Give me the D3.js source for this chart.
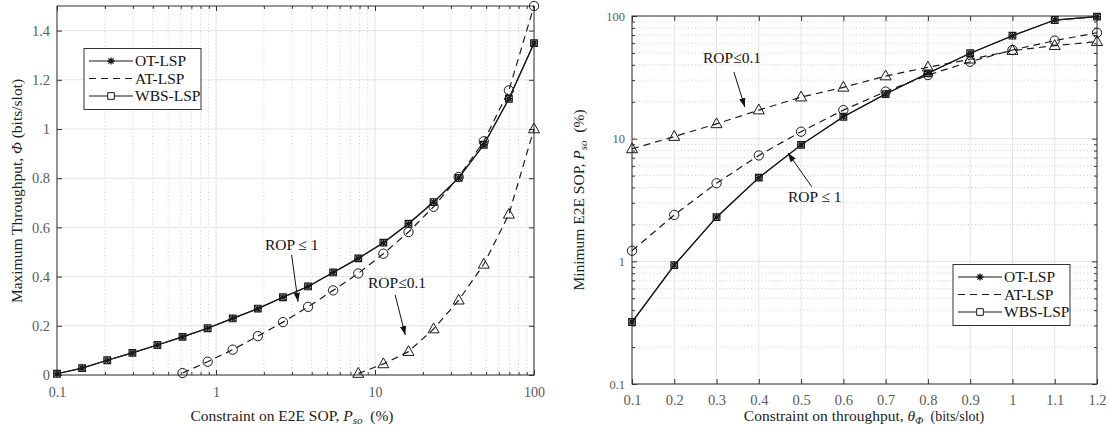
<!DOCTYPE html>
<html>
<head>
<meta charset="utf-8">
<script src="https://cdn.jsdelivr.net/npm/d3@7"></script>
<style>
  body { margin: 0; background: #fff; }
  svg, svg text, svg tspan { font-family: "Liberation Serif", "DejaVu Serif", "Noto Serif", Times, serif !important; }
</style>
</head>
<body>
<div id="chart"></div>
<script>
//
// Two panels: max throughput vs SOP constraint, min SOP vs throughput constraint
//

// ---- left panel data (x = SOP constraint, %)
var leftX = [0.1, 0.1438, 0.207, 0.298, 0.428, 0.616, 0.886, 1.274, 1.833, 2.637, 3.793, 5.456, 7.848, 11.29, 16.24, 23.36, 33.6, 48.33, 69.52, 100];
var leftOT = [0.005, 0.028, 0.06, 0.09, 0.122, 0.155, 0.19, 0.23, 0.27, 0.316, 0.36, 0.417, 0.474, 0.538, 0.615, 0.703, 0.801, 0.936, 1.123, 1.349];
var leftWBS = [0.005, 0.028, 0.06, 0.09, 0.122, 0.155, 0.19, 0.23, 0.27, 0.316, 0.36, 0.417, 0.474, 0.538, 0.615, 0.703, 0.801, 0.936, 1.123, 1.349];
var leftAT1 = [null, null, null, null, null, 0.008, 0.054, 0.103, 0.158, 0.215, 0.277, 0.344, 0.413, 0.493, 0.581, 0.684, 0.805, 0.95, 1.157, 1.5];
var leftAT01 = [null, null, null, null, null, null, null, null, null, null, null, null, 0.006, 0.045, 0.095, 0.187, 0.304, 0.45, 0.653, 1.0];
var leftXTicks = [0.1, 1, 10, 100];
var leftYTicks = [0, 0.2, 0.4, 0.6, 0.8, 1, 1.2, 1.4];

// ---- right panel data (x = throughput constraint, bits/slot)
var rightX = [0.1, 0.2, 0.3, 0.4, 0.5, 0.6, 0.7, 0.8, 0.9, 1.0, 1.1, 1.2];
var rightOT = [0.32, 0.93, 2.29, 4.81, 8.9, 15.1, 23.1, 34.1, 49.7, 69.1, 92.7, 98.8];
var rightWBS = [0.32, 0.93, 2.29, 4.81, 8.9, 15.1, 23.1, 34.1, 49.7, 69.1, 92.7, 98.8];
var rightAT1 = [1.22, 2.39, 4.33, 7.3, 11.4, 17.1, 24.2, 33, 42.4, 52.8, 63, 73];
var rightAT01 = [8.25, 10.4, 13.2, 17.1, 21.8, 26.2, 32.4, 38.2, 44.4, 52.2, 57.3, 61.8];
var rightXTicks = [0.1, 0.2, 0.3, 0.4, 0.5, 0.6, 0.7, 0.8, 0.9, 1, 1.1, 1.2];
var rightYTicks = [0.1, 1, 10, 100];

var legendNames = ["OT-LSP", "AT-LSP", "WBS-LSP"];

const _font = "Liberation Serif";
const _lineColor = "#1a1a1a";
const _axisColor = "#333";
const _tickTextColor = "#5a5a5a";
const _gridMajor = "#e4e4e4";
const _gridMinor = "#cfcfcf";
const _dash = "7,5";

var svg = d3.select("#chart").append("svg")
    .attr("width", 1109)
    .attr("height", 432)
    .attr("font-family", _font);

svg.append("defs").append("marker")
    .attr("id", "arrowHead")
    .attr("viewBox", "0 0 10 10")
    .attr("refX", 10).attr("refY", 5)
    .attr("markerWidth", 9).attr("markerHeight", 9)
    .attr("markerUnits", "userSpaceOnUse")
    .attr("orient", "auto")
    .append("path")
    .attr("d", "M0,1.5L10,5L0,8.5Z")
    .attr("fill", "#111");

function asteriskPath(r) {
    var a = r * 0.72;
    return "M" + (-r) + ",0L" + r + ",0M0," + (-r) + "L0," + r +
        "M" + (-a) + "," + (-a) + "L" + a + "," + a + "M" + (-a) + "," + a + "L" + a + "," + (-a);
}

function drawMarkers(g, xs, ys, x, y, kind) {
    var pts = [];
    for (var i = 0; i < xs.length; i++) {
        if (ys[i] != null) pts.push([xs[i], ys[i]]);
    }
    var sel = g.append("g").selectAll("path").data(pts).join("path")
        .attr("transform", d => "translate(" + x(d[0]) + "," + y(d[1]) + ")")
        .attr("fill", "none")
        .attr("stroke", _lineColor)
        .attr("stroke-width", 1);
    if (kind == "asterisk") sel.attr("d", asteriskPath(3.6)).attr("stroke-width", 1.3);
    if (kind == "square") sel.attr("d", d3.symbol().type(d3.symbolSquare).size(44)()).attr("stroke-width", 1.2);
    if (kind == "circle") sel.attr("d", d3.symbol().type(d3.symbolCircle).size(68)());
    if (kind == "triangle") sel.attr("d", "M0,-6L5.5,3.8L-5.5,3.8Z");
}

function drawSeries(g, xs, ys, x, y, dashed, marker) {
    var pts = [];
    for (var i = 0; i < xs.length; i++) pts.push([xs[i], ys[i]]);
    var line = d3.line()
        .defined(d => d[1] != null)
        .x(d => x(d[0]))
        .y(d => y(d[1]));
    g.append("path")
        .attr("fill", "none")
        .attr("stroke", _lineColor)
        .attr("stroke-width", 1.2)
        .attr("stroke-dasharray", dashed ? _dash : null)
        .attr("d", line(pts));
    drawMarkers(g, xs, ys, x, y, marker);
}

function styleAxis(a, fontSize) {
    a.attr("font-family", _font);
    a.select(".domain").remove();
    a.selectAll(".tick line").attr("stroke", _axisColor);
    a.selectAll(".tick text")
        .attr("fill", _tickTextColor)
        .attr("font-family", _font)
        .style("font-size", fontSize + "px");
}

function drawGridAndAxes(g, x, y, opt) {
    var x0 = x.range()[0], x1 = x.range()[1];
    var y0 = y.range()[0], y1 = y.range()[1];

    // minor grid
    g.append("g").selectAll("line").data(opt.xMinor).join("line")
        .attr("x1", d => x(d)).attr("x2", d => x(d))
        .attr("y1", y0).attr("y2", y1)
        .attr("stroke", _gridMinor).attr("stroke-dasharray", "1,2.5");
    g.append("g").selectAll("line").data(opt.yMinor).join("line")
        .attr("y1", d => y(d)).attr("y2", d => y(d))
        .attr("x1", x0).attr("x2", x1)
        .attr("stroke", _gridMinor).attr("stroke-dasharray", "1,2.5");
    // major grid
    g.append("g").selectAll("line").data(opt.xTicks).join("line")
        .attr("x1", d => x(d)).attr("x2", d => x(d))
        .attr("y1", y0).attr("y2", y1)
        .attr("stroke", _gridMajor);
    g.append("g").selectAll("line").data(opt.yTicks).join("line")
        .attr("y1", d => y(d)).attr("y2", d => y(d))
        .attr("x1", x0).attr("x2", x1)
        .attr("stroke", _gridMajor);

    // inward ticks, all four sides
    var bottom = g.append("g").attr("transform", "translate(0," + y0 + ")")
        .call(d3.axisBottom(x).tickValues(opt.xTicks).tickFormat(opt.xFormat).tickSize(-5).tickPadding(opt.xPad));
    styleAxis(bottom, opt.xFont);
    var bottomMinor = g.append("g").attr("transform", "translate(0," + y0 + ")")
        .call(d3.axisBottom(x).tickValues(opt.xMinor).tickFormat("").tickSize(-3));
    styleAxis(bottomMinor, opt.xFont);
    var top = g.append("g").attr("transform", "translate(0," + y1 + ")")
        .call(d3.axisTop(x).tickValues(opt.xTicks).tickFormat("").tickSize(-5));
    styleAxis(top, opt.xFont);
    var topMinor = g.append("g").attr("transform", "translate(0," + y1 + ")")
        .call(d3.axisTop(x).tickValues(opt.xMinor).tickFormat("").tickSize(-3));
    styleAxis(topMinor, opt.xFont);

    var left = g.append("g").attr("transform", "translate(" + x0 + ",0)")
        .call(d3.axisLeft(y).tickValues(opt.yTicks).tickFormat(opt.yFormat).tickSize(-5).tickPadding(7));
    styleAxis(left, opt.yFont);
    var leftMinor = g.append("g").attr("transform", "translate(" + x0 + ",0)")
        .call(d3.axisLeft(y).tickValues(opt.yMinor).tickFormat("").tickSize(-3));
    styleAxis(leftMinor, opt.yFont);
    var right = g.append("g").attr("transform", "translate(" + x1 + ",0)")
        .call(d3.axisRight(y).tickValues(opt.yTicks).tickFormat("").tickSize(-5));
    styleAxis(right, opt.yFont);
    var rightMinor = g.append("g").attr("transform", "translate(" + x1 + ",0)")
        .call(d3.axisRight(y).tickValues(opt.yMinor).tickFormat("").tickSize(-3));
    styleAxis(rightMinor, opt.yFont);

    // box
    g.append("rect")
        .attr("x", x0).attr("y", y1)
        .attr("width", x1 - x0).attr("height", y0 - y1)
        .attr("fill", "none")
        .attr("stroke", _axisColor)
        .attr("stroke-width", 1);
}

function drawLegend(g, lx, ly) {
    var w = 117, h = 61;
    g.append("rect")
        .attr("x", lx).attr("y", ly)
        .attr("width", w).attr("height", h)
        .attr("fill", "#fff")
        .attr("stroke", "#333")
        .attr("stroke-width", 1);
    var rows = [
        { name: legendNames[0], dashed: false, marker: "asterisk" },
        { name: legendNames[1], dashed: true, marker: null },
        { name: legendNames[2], dashed: false, marker: "square" }
    ];
    rows.forEach(function (r, idx) {
        var yy = ly + 12.5 + idx * 17.5;
        g.append("line")
            .attr("x1", lx + 5).attr("x2", lx + 49)
            .attr("y1", yy).attr("y2", yy)
            .attr("stroke", _lineColor)
            .attr("stroke-width", 1.2)
            .attr("stroke-dasharray", r.dashed ? _dash : null);
        if (r.marker == "asterisk")
            g.append("path").attr("transform", "translate(" + (lx + 27) + "," + yy + ")")
                .attr("d", asteriskPath(3.6)).attr("stroke", _lineColor).attr("stroke-width", 1.3).attr("fill", "none");
        if (r.marker == "square")
            g.append("path").attr("transform", "translate(" + (lx + 27) + "," + yy + ")")
                .attr("d", d3.symbol().type(d3.symbolSquare).size(44)()).attr("stroke", _lineColor).attr("fill", "#fff");
        g.append("text")
            .attr("x", lx + 51).attr("y", yy + 5)
            .attr("font-family", _font)
            .style("font-size", "15.5px")
            .attr("fill", "#111")
            .text(r.name);
    });
}

function annotate(g, x, y, label, tx, ty, ax0, ay0, ax1, ay1) {
    g.append("text")
        .attr("x", x(tx)).attr("y", y(ty))
        .attr("font-family", _font)
        .style("font-size", "15.5px")
        .attr("fill", "#111")
        .text(label);
    g.append("line")
        .attr("x1", x(ax0)).attr("y1", y(ay0))
        .attr("x2", x(ax1)).attr("y2", y(ay1))
        .attr("stroke", "#111")
        .attr("stroke-width", 1)
        .attr("marker-end", "url(#arrowHead)");
}

function decadeMinors(lo, hi) {
    var out = [];
    for (var p = lo; p < hi; p *= 10)
        for (var m = 2; m <= 9; m++) out.push(p * m);
    return out;
}

// ================= left panel
var xL = d3.scaleLog().domain([0.1, 100]).range([57, 534]);
var yL = d3.scaleLinear().domain([0, 1.5]).range([375, 6]);
var gL = svg.append("g");

drawGridAndAxes(gL, xL, yL, {
    xTicks: leftXTicks, xMinor: decadeMinors(0.1, 100),
    yTicks: leftYTicks, yMinor: [],
    xFormat: d3.format("~g"), yFormat: d3.format("~g"),
    xFont: 14, yFont: 14.5, xPad: 12
});

drawSeries(gL, leftX, leftAT01, xL, yL, true, "triangle");
drawSeries(gL, leftX, leftAT1, xL, yL, true, "circle");
drawSeries(gL, leftX, leftWBS, xL, yL, false, "square");
drawSeries(gL, leftX, leftOT, xL, yL, false, "asterisk");

annotate(gL, xL, yL, "ROP \u2264 1", 2.03, 0.508, 2.99, 0.488, 3.28, 0.298);
annotate(gL, xL, yL, "ROP\u22640.1", 9.04, 0.354, 13.4, 0.325, 15.5, 0.163);
drawLegend(gL, 84, 48.5);

// axis labels
var xlabL = gL.append("text")
    .attr("x", 292).attr("y", 421)
    .attr("text-anchor", "middle")
    .attr("font-family", _font)
    .style("font-size", "15.5px")
    .attr("fill", "#222");
xlabL.append("tspan").text("Constraint on E2E SOP, ");
xlabL.append("tspan").style("font-style", "italic").text("P");
xlabL.append("tspan").style("font-style", "italic").style("font-size", "11px").attr("dy", 3).text("so");
xlabL.append("tspan").attr("dy", -3).text("\u2002(%)");

var ylabL = gL.append("text")
    .attr("transform", "translate(22,191) rotate(-90)")
    .attr("text-anchor", "middle")
    .attr("font-family", _font)
    .style("font-size", "15.5px")
    .attr("fill", "#222");
ylabL.append("tspan").text("Maximum Throughput, ");
ylabL.append("tspan").style("font-style", "italic").text("\u03A6");
ylabL.append("tspan").text(" (bits/slot)");

// ================= right panel
var xR = d3.scaleLinear().domain([0.1, 1.2]).range([632, 1097]);
var yR = d3.scaleLog().domain([0.1, 100]).range([384, 16]);
var gR = svg.append("g");

drawGridAndAxes(gR, xR, yR, {
    xTicks: rightXTicks, xMinor: [],
    yTicks: rightYTicks, yMinor: decadeMinors(0.1, 100),
    xFormat: d3.format("~g"), yFormat: d3.format("~g"),
    xFont: 14.5, yFont: 12.5, xPad: 11
});

drawSeries(gR, rightX, rightAT01, xR, yR, true, "triangle");
drawSeries(gR, rightX, rightAT1, xR, yR, true, "circle");
drawSeries(gR, rightX, rightWBS, xR, yR, false, "square");
drawSeries(gR, rightX, rightOT, xR, yR, false, "asterisk");

annotate(gR, xR, yR, "ROP\u22640.1", 0.268, 41.4, 0.341, 35, 0.367, 18.1);
annotate(gR, xR, yR, "ROP \u2264 1", 0.469, 3.05, 0.525, 4.06, 0.469, 7.64);
drawLegend(gR, 953, 264.5);

var xlabR = gR.append("text")
    .attr("x", 864).attr("y", 421)
    .attr("text-anchor", "middle")
    .attr("font-family", _font)
    .style("font-size", "15.5px")
    .attr("fill", "#222");
xlabR.append("tspan").text("Constraint on throughput, ");
xlabR.append("tspan").style("font-style", "italic").text("\u03B8");
xlabR.append("tspan").style("font-style", "italic").style("font-size", "11px").attr("dy", 3).text("\u03A6");
xlabR.append("tspan").attr("dy", -3).style("font-size", "14px").text("\u2002(bits/slot)");

var ylabR = gR.append("text")
    .attr("transform", "translate(584,200) rotate(-90)")
    .attr("text-anchor", "middle")
    .attr("font-family", _font)
    .style("font-size", "15.5px")
    .attr("fill", "#222");
ylabR.append("tspan").text("Minimum E2E SOP, ");
ylabR.append("tspan").style("font-style", "italic").text("P");
ylabR.append("tspan").style("font-style", "italic").style("font-size", "11px").attr("dy", 3).text("so");
ylabR.append("tspan").attr("dy", -3).text("\u2002(%)");
</script>
</body>
</html>
